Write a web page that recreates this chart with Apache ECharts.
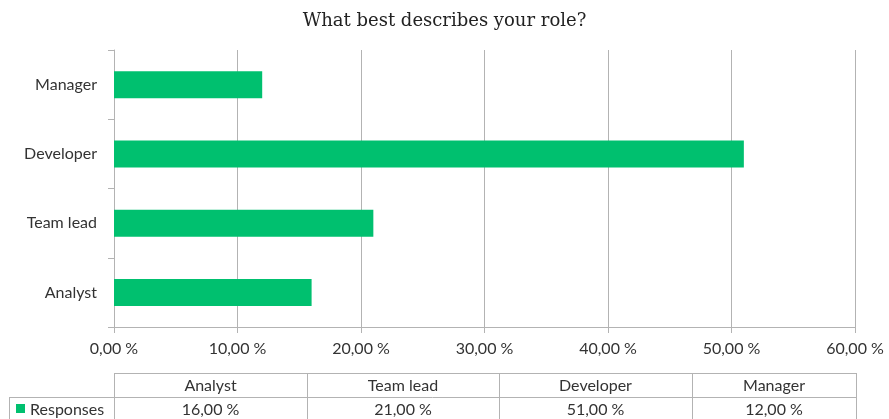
<!DOCTYPE html>
<html>
<head>
<meta charset="utf-8">
<script src="https://cdn.jsdelivr.net/npm/echarts@6/dist/echarts.min.js"></script>
<style>
  html, body { margin: 0; padding: 0; background: #fff; }
  #chart { width: 889px; height: 419px; }
</style>
</head>
<body>
<div id="chart"></div>
<script>
// data
const categories = ['Analyst', 'Team lead', 'Developer', 'Manager']
const responses = [16, 21, 51, 12]
const seriesName = 'Responses'
const xTicks = [0, 10, 20, 30, 40, 50, 60]

const green = '#00c06f'
const gridGray = '#b3b3b3'
const labelFont = 'Lato, "Open Sans", sans-serif'

const fmt = v => v.toFixed(2).replace('.', ',') + ' %'

const chart = echarts.init(document.getElementById('chart'))

// data table under the chart
const colEdges = [114, 307, 499, 692, 856]
const tTop = 373, tMid = 397, tBot = 420
const table = []
const line = (x1, y1, x2, y2) => ({
  type: 'line', silent: true,
  shape: { x1: x1, y1: y1, x2: x2, y2: y2 },
  style: { stroke: gridGray, lineWidth: 1 }
})
table.push(line(114, tTop + 0.5, 856, tTop + 0.5))
table.push(line(9, tMid + 0.5, 856, tMid + 0.5))
table.push(line(9.5, tMid, 9.5, tBot))
colEdges.forEach(x => table.push(line(x + 0.5, tTop, x + 0.5, tBot)))
categories.forEach((c, i) => {
  const cx = (colEdges[i] + colEdges[i + 1]) / 2
  table.push({
    type: 'text', x: cx, y: (tTop + tMid) / 2 + 1,
    style: { text: c, fill: '#333', font: '16px ' + labelFont, align: 'center', verticalAlign: 'middle' }
  })
  table.push({
    type: 'text', x: cx, y: (tMid + tBot) / 2 + 1,
    style: { text: fmt(responses[i]), fill: '#333', font: '16px ' + labelFont, align: 'center', verticalAlign: 'middle' }
  })
})
table.push({ type: 'rect', shape: { x: 16, y: 404, width: 9, height: 9 }, style: { fill: green } })
table.push({
  type: 'text', x: 30, y: (tMid + tBot) / 2 + 1,
  style: { text: seriesName, fill: '#333', font: '16px ' + labelFont, verticalAlign: 'middle' }
})

chart.setOption({
  animation: false,
  title: {
    text: 'What best describes your role?',
    left: 'center',
    top: 7,
    textStyle: { fontFamily: '"DejaVu Serif", serif', fontWeight: 'normal', fontSize: 18, color: '#222' }
  },
  grid: { left: 114, right: 34, top: 50, bottom: 92 },
  xAxis: {
    type: 'value',
    min: xTicks[0],
    max: xTicks[xTicks.length - 1],
    interval: 10,
    axisLine: { show: true, lineStyle: { color: gridGray } },
    axisTick: { show: true, length: 6, lineStyle: { color: gridGray } },
    splitLine: { show: true, lineStyle: { color: gridGray } },
    axisLabel: { formatter: fmt, margin: 14, fontSize: 16, color: '#333', fontFamily: labelFont }
  },
  yAxis: {
    type: 'category',
    data: categories,
    axisLine: { show: true, lineStyle: { color: gridGray } },
    axisTick: { show: true, length: 6, lineStyle: { color: gridGray } },
    axisLabel: { margin: 17, fontSize: 16, color: '#333', fontFamily: labelFont }
  },
  series: [{
    name: seriesName,
    type: 'bar',
    data: responses,
    barWidth: 27,
    itemStyle: { color: green }
  }],
  graphic: table
})
</script>
</body>
</html>
